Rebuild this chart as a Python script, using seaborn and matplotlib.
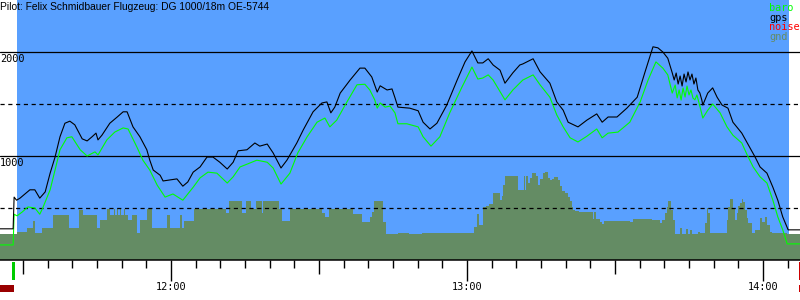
import numpy as np
import matplotlib
matplotlib.use("Agg")
import matplotlib.pyplot as plt
import matplotlib.transforms as mtransforms
from matplotlib.patches import Rectangle
import seaborn as sns

# ---------------- data (time in minutes after 11:00, altitude in m) ----------------
gps_t = [25.3, 28.0, 28.2, 28.7, 29.4, 31.4, 32.4, 33.4, 34.5, 35.5, 36.5, 37.5, 38.5, 39.5,
         40.5, 42.0, 43.0, 44.0, 44.8, 45.2, 46.0, 47.6, 49.1, 50.3, 51.1, 52.3, 53.7, 55.1,
         55.7, 56.4, 57.8, 58.4, 59.8, 61.2, 62.4, 63.4, 64.5, 65.9, 67.3, 68.5, 69.9, 71.4,
         72.6, 73.6, 75.4, 77.0, 78.0, 79.5, 80.7, 82.3, 83.5, 85.5, 86.8, 88.8, 90.6, 91.6,
         92.4, 93.2, 94.3, 96.3, 98.3, 99.3, 100.7, 101.8, 102.4, 103.8, 104.8, 105.4, 106.0,
         108.4, 110.1, 111.1, 112.5, 113.9, 115.9, 118.0, 119.6, 121.0, 122.2, 123.2, 124.3,
         125.3, 126.7, 127.7, 129.3, 130.7, 131.3, 133.4, 134.8, 136.8, 138.2, 139.5, 140.5,
         142.5, 144.3, 146.3, 147.4, 148.6, 150.4, 152.4, 154.5, 156.1, 157.7, 158.7, 159.7,
         160.7, 161.6, 162.0, 162.4, 162.8, 163.2, 163.6, 164.0, 164.4, 164.8, 165.2, 165.6,
         166.0, 166.4, 166.8, 167.2, 167.6, 167.8, 168.8, 169.8, 170.7, 171.7, 172.9, 173.9,
         175.7, 177.4, 178.4, 179.4, 180.8, 182.0, 183.0, 184.0, 185.1, 187.5]
gps_alt = [300, 300, 605, 575, 595, 675, 675, 595, 655, 835, 990, 1185, 1315, 1335,
           1300, 1165, 1145, 1185, 1220, 1155, 1200, 1315, 1375, 1425, 1425, 1280, 1185, 1060,
           960, 865, 815, 760, 770, 780, 710, 750, 845, 895, 990, 990, 940, 875,
           940, 1050, 1060, 1125, 1095, 1115, 1030, 885, 960, 1125, 1250, 1425, 1510, 1520,
           1415, 1470, 1605, 1730, 1845, 1845, 1760, 1615, 1675, 1635, 1645, 1560, 1470,
           1460, 1435, 1325, 1260, 1315, 1490, 1730, 1905, 2010, 1895, 1895, 1935,
           1875, 1825, 1700, 1800, 1875, 1885, 1935, 1810, 1700, 1520, 1440, 1325,
           1280, 1345, 1405, 1325, 1375, 1375, 1460, 1565, 1810, 2050, 2040, 2000,
           1940, 1800, 1731, 1798, 1692, 1769, 1673, 1788, 1712, 1808, 1731, 1788,
           1692, 1750, 1635, 1606, 1538, 1490, 1605, 1655, 1565, 1490, 1460, 1325,
           1220, 1075, 990, 895, 835, 700, 575, 415, 290, 290]

baro_t = [25.3, 28.0, 28.2, 28.8, 29.8, 31.0, 32.4, 33.4, 34.0, 35.5, 36.5, 37.5, 38.9, 39.9,
          41.6, 43.0, 44.6, 45.2, 47.0, 48.6, 50.3, 51.3, 53.1, 54.3, 55.7, 57.2, 58.8, 60.4,
          62.4, 64.5, 65.9, 67.5, 69.3, 71.4, 72.6, 74.0, 75.6, 77.4, 79.5, 80.7, 82.3, 84.1,
          85.7, 87.6, 89.6, 91.2, 92.2, 93.6, 95.3, 97.7, 99.3, 100.3, 101.3, 101.8, 102.4,
          103.4, 104.4, 105.4, 106.0, 107.8, 110.1, 111.1, 112.7, 114.5, 116.5, 119.0, 121.0,
          122.2, 123.2, 124.3, 125.3, 127.7, 129.3, 131.3, 133.4, 134.8, 136.8, 138.2, 139.5,
          140.9, 142.5, 144.3, 146.3, 147.4, 148.6, 150.6, 153.0, 155.1, 156.7, 158.3, 159.7,
          160.7, 161.6, 162.2, 162.6, 163.0, 163.4, 163.8, 164.2, 164.6, 165.0, 165.4, 165.8,
          166.2, 166.6, 167.2, 167.8, 168.8, 169.8, 171.3, 172.7, 173.9, 175.7, 176.8, 178.0,
          179.4, 180.8, 182.0, 183.0, 184.0, 184.9, 187.5]
baro_alt = [145, 145, 440, 425, 460, 510, 500, 440, 500, 675, 865, 1060, 1175, 1185,
            1060, 1000, 1040, 1010, 1155, 1230, 1270, 1260, 1085, 960, 865, 720, 605, 635,
            575, 700, 790, 845, 835, 740, 800, 895, 925, 960, 940, 885, 730, 835,
            1030, 1185, 1325, 1365, 1280, 1345, 1490, 1685, 1690, 1635, 1540, 1460, 1510,
            1470, 1480, 1415, 1310, 1310, 1280, 1185, 1095, 1185, 1415, 1665, 1855,
            1740, 1750, 1780, 1730, 1540, 1635, 1730, 1780, 1685, 1565, 1395, 1280,
            1175, 1135, 1190, 1260, 1175, 1220, 1230, 1325, 1520, 1730, 1905, 1845,
            1780, 1605, 1683, 1558, 1635, 1538, 1654, 1567, 1673, 1587, 1635, 1558,
            1540, 1587, 1480, 1365, 1440, 1500, 1415, 1280, 1200, 1125, 1010, 895,
            800, 740, 575, 415, 290, 155, 155]

gnd_t = [25.3, 28.8, 30.8, 32.0, 32.4, 33.9, 36.1, 39.3, 41.3, 42.2, 45.0, 45.6, 47.0, 47.6,
         48.2, 48.4, 48.6, 49.0, 49.3, 49.7, 49.9, 50.5, 50.7, 51.3, 52.1, 53.1, 53.7, 55.1,
         56.2, 59.2, 59.8, 61.8, 62.2, 62.6, 64.7, 71.1, 71.8, 74.4, 75.2, 76.2, 77.2, 78.4,
         78.6, 81.9, 82.5, 84.1, 90.6, 91.2, 92.0, 96.9, 98.7, 100.3, 100.7, 101.1, 103.0,
         103.6, 106.0, 108.2, 110.9, 121.4, 122.0, 122.4, 123.2, 123.8, 124.5, 125.3, 126.7,
         127.1, 127.3, 127.7, 130.3, 131.6, 131.8, 132.0, 132.4, 132.8, 133.2, 134.0, 134.4,
         134.8, 135.4, 135.8, 136.4, 136.8, 137.2, 137.6, 138.4, 138.9, 139.3, 139.9, 140.5,
         140.9, 141.3, 141.5, 141.9, 142.7, 145.5, 145.7, 146.1, 147.0, 147.4, 147.8, 153.0,
         153.6, 157.5, 159.1, 159.5, 160.1, 160.5, 160.7, 161.3, 161.8, 162.2, 163.2, 163.6,
         164.4, 164.8, 165.2, 165.6, 166.8, 167.2, 168.2, 168.6, 168.9, 169.3, 172.7, 172.9,
         173.3, 173.9, 174.3, 174.7, 174.9, 175.3, 175.7, 175.9, 176.3, 176.8, 177.0, 177.8,
         178.4, 179.4, 179.8, 180.4, 180.8, 181.4, 181.8, 184.9, 187.5]
gnd_alt = [250, 270, 310, 375, 260, 310, 435, 310, 480, 435, 310, 385, 490, 435,
           435, 490, 435, 490, 435, 490, 435, 490, 435, 385, 435, 260, 385, 490,
           310, 435, 310, 435, 310, 375, 490, 450, 565, 450, 565, 490, 565, 450,
           565, 490, 375, 490, 450, 415, 490, 440, 365, 415, 460, 565, 365,
           250, 260, 250, 260, 315, 440, 335, 510, 520, 540, 645, 575,
           615, 720, 810, 675, 810, 675, 810, 740, 790, 835, 810, 720,
           780, 835, 845, 790, 770, 780, 800, 770, 710, 665, 645, 605,
           565, 510, 480, 470, 460, 395, 460, 395, 365, 345, 375, 365,
           395, 385, 355, 385, 450, 510, 565, 480, 385, 250, 310, 250,
           300, 250, 290, 250, 270, 260, 355, 500, 450, 260, 385, 510,
           585, 500, 385, 450, 520, 550, 585, 560, 480, 405, 355, 260,
           290, 405, 365, 415, 335, 270, 260, 250, 250]

hour_ticks = [60, 120, 180]
hour_labels = ["12:00", "13:00", "14:00"]
grid_solid = [1000, 2000]
grid_dashed = [500, 1500]
grid_labels = ["1000", "2000"]
legend_names = ["baro", "gps", "noise", "gnd"]

title = "Pilot: Felix Schmidbauer Flugzeug: DG 1000/18m OE-5744"
takeoff_t = 28.05
landing_t = 187.2
window_start, window_end = 28.8, 185.3

# ---------------- style ----------------
BLUE = "#59a0ff"
GND = "#648c64"
BARO = "#00ff00"
COLORS = {"baro": BARO, "gps": "#000000", "noise": "#ff0000", "gnd": GND}

sns.set_style("white")
plt.rcParams["lines.scale_dashes"] = False
MONO = "DejaVu Sans Mono"

fig = plt.figure(figsize=(8, 3), dpi=100)
ax = fig.add_axes([0, 0, 1, 1])
ax.set_axis_off()
X0, X1 = 25.34, 187.5
Y0, Y1 = -384.5, 2500
ax.set_xlim(X0, X1)
ax.set_ylim(Y0, Y1)

# blue sky window
ax.add_patch(Rectangle((window_start, 0), window_end - window_start, Y1,
                       facecolor=BLUE, edgecolor="none", zorder=0))

# ground
ax.fill_between(gnd_t, gnd_alt, 0, step="post", color=GND, linewidth=0, zorder=1)

# grid lines
for v in grid_solid:
    ax.axhline(v, color="black", linewidth=0.9, zorder=2)
for v in grid_dashed:
    ax.axhline(v, color="black", linewidth=0.9, linestyle=(0, (3.0, 2.6)), zorder=2)
ax.axhline(0, color="black", linewidth=1.1, zorder=4)

ytr = mtransforms.blended_transform_factory(ax.transAxes, ax.transData)
for v, lab in zip(grid_solid, grid_labels):
    ax.text(0.0, v - 22, lab, transform=ytr, ha="left", va="top",
            family=MONO, fontsize=7.4, color="black", zorder=5)

# traces
sns.lineplot(x=baro_t, y=baro_alt, color=BARO, linewidth=0.8, ax=ax,
             estimator=None, sort=False, zorder=3)
sns.lineplot(x=gps_t, y=gps_alt, color="black", linewidth=0.8, ax=ax,
             estimator=None, sort=False, zorder=3)

# time ticks
for m in range(30, 190, 5):
    if m % 60 == 0:
        low = -200
    elif m % 30 == 0:
        low = -135
    else:
        low = -75
    ax.plot([m, m], [0, low], color="black", linewidth=1.0, zorder=4,
            solid_capstyle="butt")
for m, lab in zip(hour_ticks, hour_labels):
    ax.text(m, -290, lab, ha="center", va="baseline", family=MONO,
            fontsize=7.4, color="black")

# takeoff / landing markers
ax.add_patch(Rectangle((takeoff_t - 0.3, -192), 0.6, 172, facecolor="#00cc00",
                       edgecolor="none", zorder=5))
ax.add_patch(Rectangle((X0, -310), takeoff_t + 0.15 - X0, 70, facecolor="#990000",
                       edgecolor="none", zorder=5))
ax.add_patch(Rectangle((landing_t, -192), 0.5, 172, facecolor="#cc0000",
                       edgecolor="none", zorder=5))
ax.add_patch(Rectangle((landing_t, -310), 0.5, 70, facecolor="#cc0000",
                       edgecolor="none", zorder=5))

# title & legend
fig.text(0.0, 1 - 2.5 / 300, title, ha="left", va="top",
         family="Liberation Sans", fontsize=7.4, color="black")
for i, name in enumerate(legend_names):
    fig.text(769.5 / 800, 1 - (3 + 9.7 * i) / 300, name, ha="left", va="top",
             family=MONO, fontsize=7.4, color=COLORS[name])

fig.savefig("out.png", dpi=100)
